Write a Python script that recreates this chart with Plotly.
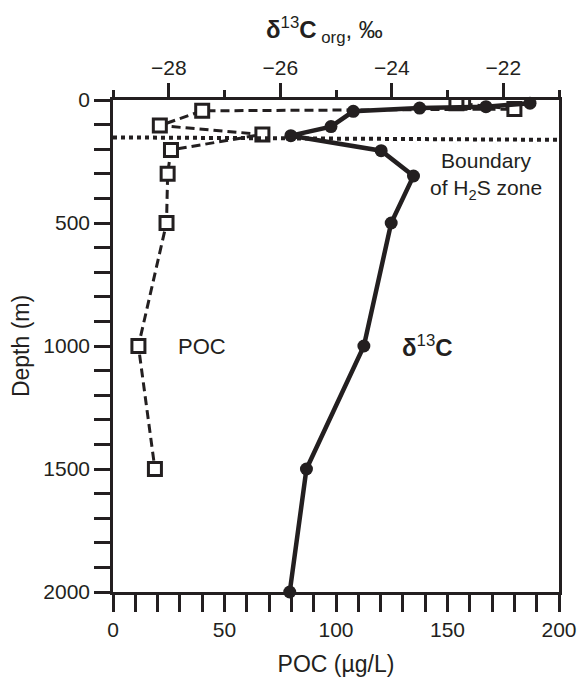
import plotly.graph_objects as go

# POC profile (bottom axis)
poc_depth = [8, 13, 37, 44, 104, 140, 203, 300, 500, 1000, 1500]
poc_value = [157, 154, 180, 40, 21, 67, 26, 24.5, 24, 11.4, 18.8]

# delta13C org profile (top axis)
d13c_depth = [13, 27, 33, 46, 108, 145, 206, 309, 500, 1000, 1500, 2000]
d13c_value = [-21.52, -22.31, -23.50, -24.69, -25.09, -25.81, -24.19, -23.61,
              -24.01, -24.50, -25.53, -25.83]

# H2S zone boundary (depth at left and right edge of plot)
boundary_depth = [152, 162]

poc_ticks = [0, 50, 100, 150, 200]
d13c_ticks = [-28, -26, -24, -22]
depth_ticks = [0, 500, 1000, 1500, 2000]

INK = "#231f20"
FONT = "Liberation Sans, Arial, Helvetica, sans-serif"

fig = go.Figure()

fig.add_trace(go.Scatter(
    x=poc_value, y=poc_depth, xaxis="x", yaxis="y",
    mode="lines+markers", name="POC",
    line=dict(color=INK, width=3, dash="9px,5px"),
    marker=dict(symbol="square", size=13, color="white",
                line=dict(color=INK, width=3)),
    showlegend=False,
))

fig.add_trace(go.Scatter(
    x=d13c_value, y=d13c_depth, xaxis="x2", yaxis="y",
    mode="lines+markers", name="δ13C",
    line=dict(color=INK, width=4.5),
    marker=dict(symbol="circle", size=13, color=INK),
    showlegend=False,
    cliponaxis=False,
))

fig.add_shape(type="line", xref="paper", yref="y",
              x0=0, x1=1, y0=boundary_depth[0], y1=boundary_depth[1],
              line=dict(color=INK, width=4, dash="4px,4px"))

axis_common = dict(showgrid=False, zeroline=False, showline=True,
                   automargin=False,
                   linecolor=INK, linewidth=2.5, ticks="outside",
                   tickcolor=INK, tickwidth=2.5,
                   tickfont=dict(family=FONT, size=21, color=INK))

fig.update_layout(
    width=581, height=677,
    margin=dict(l=113, r=22, t=100, b=85),
    paper_bgcolor="white", plot_bgcolor="white",
    font=dict(family=FONT, color=INK, size=21),
    xaxis=dict(range=[0, 200], tickvals=poc_ticks, ticklen=17,
               minor=dict(dtick=10, tick0=0, ticklen=17, tickwidth=2.5,
                          tickcolor=INK, ticks="outside"),
               title=dict(text="POC (µg/L)", font=dict(size=23), standoff=18),
               **axis_common),
    xaxis2=dict(range=[-29, -21], overlaying="x", side="top",
                tickvals=d13c_ticks, ticklen=14,
                minor=dict(dtick=1, tick0=-29, ticklen=7, tickwidth=2.5,
                           tickcolor=INK, ticks="outside"),
                **axis_common),
    yaxis=dict(range=[2000, 0], tickvals=depth_ticks, ticklen=16, mirror=True,
               minor=dict(dtick=100, tick0=0, ticklen=16, tickwidth=2.5,
                          tickcolor=INK, ticks="outside"),
               title=dict(text="Depth (m)", font=dict(size=23), standoff=8),
               **axis_common),
    annotations=[
        dict(x=0.474, y=1.142, xref="paper", yref="paper", showarrow=False,
             xanchor="center", yanchor="middle",
             text="<b>δ</b><sup>13</sup><b>C</b><sub> org</sub>, ‰",
             font=dict(size=24, color=INK, family=FONT)),
        dict(x=0.836, y=310, xref="paper", yref="y", showarrow=False,
             xanchor="center", yanchor="middle",
             text="Boundary<br>of H<sub>2</sub>S zone", align="center",
             font=dict(size=21, color=INK, family=FONT)),
        dict(x=40, y=1000, xref="x", yref="y", showarrow=False,
             text="POC", font=dict(size=22, color=INK, family=FONT)),
        dict(x=0.643, y=1000, xref="paper", yref="y", showarrow=False,
             xanchor="left",
             text="<b>δ</b><sup>13</sup><b>C</b>",
             font=dict(size=24, color=INK, family=FONT)),
    ],
)

fig.write_html("out.html")
